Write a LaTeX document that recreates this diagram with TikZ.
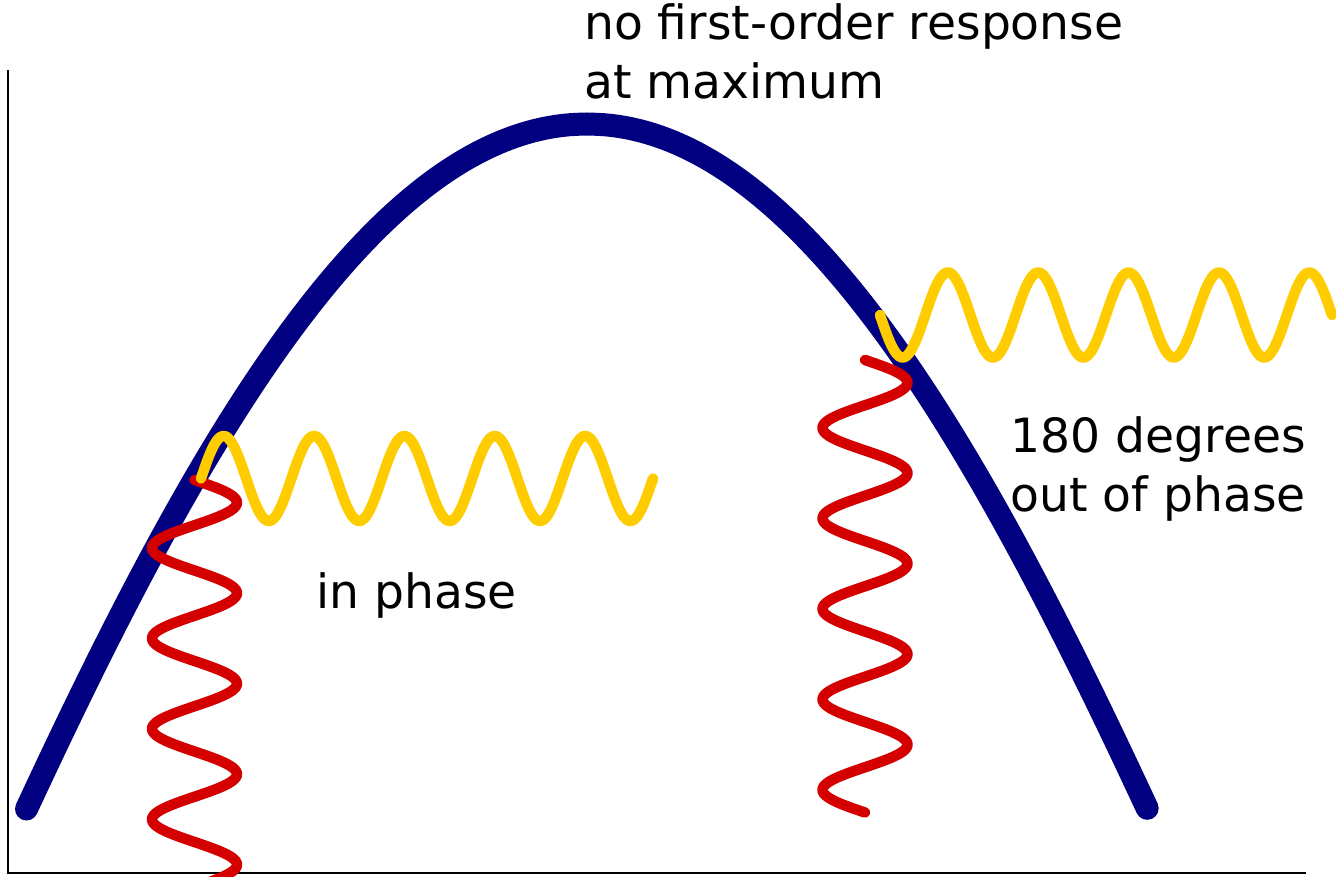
\documentclass[tikz,border=0pt]{standalone}
\usepackage{fontspec}
\setmainfont{DejaVu Sans}
\definecolor{bluecurve}{HTML}{000080}
\definecolor{yelwave}{HTML}{FFCC00}
\definecolor{redwave}{HTML}{D40000}
\tikzset{
  bluestyle/.style={draw=bluecurve, line width=23pt, line cap=round, line join=round},
  yelstyle/.style={draw=yelwave, line width=10.5pt, line cap=round, line join=round},
  redstyle/.style={draw=redwave, line width=10.5pt, line cap=round, line join=round},
  axisstyle/.style={draw=black, line width=2pt},
  lbl/.style={anchor=base west, inner sep=0pt, font=\fontsize{47.2}{56}\selectfont}
}
\begin{document}
\begin{tikzpicture}[x=1pt, y=-1pt]
\useasboundingbox (0,0) rectangle (1336,877);
\clip (0,0) rectangle (1336,877);
% axes
\draw[axisstyle] (8,70) -- (8,873) -- (1306,873);
% blue curve
\draw[bluestyle] plot[domain=-1:1, samples=241, smooth, variable=\t]
  ({587 + 560.5*(\t + sign(\t)*acos(1-\t*\t)/90)/2}, {124 + 685*\t*\t});
% red waves
\draw[redstyle] plot[domain=480:935, samples=260, smooth, variable=\t]
  ({194.5 + 42.5*sin((\t-480)/90.5*360)}, \t);
\draw[redstyle] plot[domain=360:812.5, samples=260, smooth, variable=\t]
  ({865 + 42.5*sin((\t-360)/90.5*360)}, \t);
% yellow waves
\draw[yelstyle] plot[domain=201:653, samples=260, smooth, variable=\x]
  (\x, {478.5 - 42.5*sin((\x-201)/90.4*360)});
\draw[yelstyle] plot[domain=880:1332, samples=260, smooth, variable=\x]
  (\x, {315 + 42.5*sin((\x-880)/90.4*360)});
% labels
\node[lbl] (top1) at (584,40) {no first-order response};
\node[lbl] (top2) at (584,98.5) {at maximum};
\node[lbl] (inph) at (316,608.5) {in phase};
\node[lbl] (out1) at (1010.5,452) {180 degrees};
\node[lbl] (out2) at (1010.5,511.5) {out of phase};
\end{tikzpicture}
\end{document}
